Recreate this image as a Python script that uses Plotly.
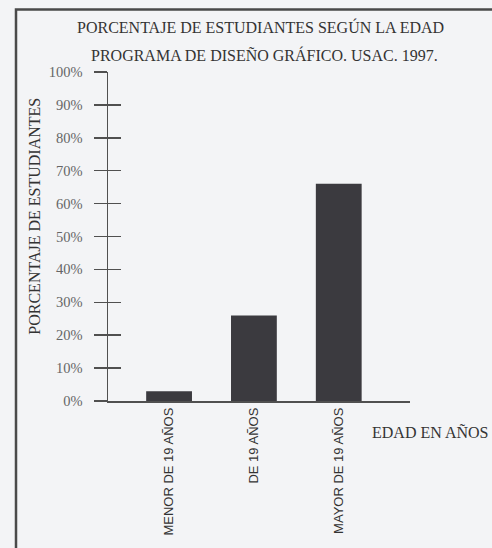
import plotly.graph_objects as go

categories = ["MENOR DE 19 AÑOS", "DE 19 AÑOS", "MAYOR DE 19 AÑOS"]
values = [3, 26, 66]
y_ticks = [0, 10, 20, 30, 40, 50, 60, 70, 80, 90, 100]
y_tick_labels = [f"{v}%" for v in y_ticks]
title_lines = ["PORCENTAJE DE ESTUDIANTES SEGÚN LA EDAD",
               "PROGRAMA DE DISEÑO GRÁFICO. USAC. 1997."]
y_title = "PORCENTAJE DE ESTUDIANTES"
x_title = "EDAD EN AÑOS"

W, H = 492, 548
L, R, T, B = 108, 410, 72, 404  # plot area in page pixels
PW, PH = R - L, B - T

def px(x):  # page pixel -> paper x
    return (x - L) / PW

def py(y):  # page pixel -> paper y
    return (B - y) / PH

BG = "#f3f4f6"
INK = "#3b3a3f"
AX = "#505050"
serif = "Liberation Serif, Times New Roman, serif"
sans = "Liberation Sans, Arial, sans-serif"

fig = go.Figure()
fig.add_trace(go.Bar(
    x=list(range(len(categories))), y=values,
    marker=dict(color=INK, line=dict(width=0)),
    width=0.54,
))
# invisible trace to attach the inside tick axis
fig.add_trace(go.Scatter(x=[0], y=[0], yaxis="y2", mode="markers",
                         marker=dict(opacity=0), hoverinfo="skip", showlegend=False))

fig.update_layout(
    width=W, height=H,
    margin=dict(l=L, r=W - R, t=T, b=H - B, pad=0),
    paper_bgcolor=BG, plot_bgcolor=BG,
    showlegend=False,
    xaxis=dict(
        range=[-0.72, 2.84],
        tickmode="array", tickvals=list(range(len(categories))), ticktext=categories,
        tickangle=-90, showgrid=False, zeroline=False,
        showline=True, linecolor=AX, linewidth=1.5,
        ticks="", tickfont=dict(family=sans, size=13, color="#333"),
        ticklabelstandoff=0,
    ),
    yaxis=dict(
        range=[0, 100], tickmode="array", tickvals=y_ticks, ticktext=y_tick_labels,
        showgrid=False, zeroline=False, showline=True, linecolor=AX, linewidth=1.5,
        ticks="outside", ticklen=13, tickwidth=1.5, tickcolor=AX,
        tickfont=dict(family=serif, size=14.5, color="#666"),
        ticklabelstandoff=8,
    ),
    yaxis2=dict(
        range=[0, 100], overlaying="y", side="left", tickmode="array", tickvals=y_ticks,
        showticklabels=False, showgrid=False, zeroline=False, showline=False,
        ticks="inside", ticklen=13, tickwidth=1.5, tickcolor=AX,
    ),
)

# frame
fig.add_shape(type="rect", xref="paper", yref="paper",
              x0=px(16), x1=px(560), y0=py(600), y1=py(9),
              line=dict(color="#4a4a4a", width=2.5), fillcolor="rgba(0,0,0,0)", layer="below")

def note(text, x, y, size, angle=0):
    fig.add_annotation(text=text, xref="paper", yref="paper", x=px(x), y=py(y),
                       xanchor="center", yanchor="middle", textangle=angle,
                       showarrow=False, font=dict(family=serif, size=size, color="#333"))

note(title_lines[0], 260, 27, 16)
note(title_lines[1], 264, 55, 16)
note(y_title, 35, 218, 16, angle=-90)
note(x_title, 430, 436, 16)

fig.write_html(
    "out.html",
    config={"displayModeBar": False, "staticPlot": True},
    post_script="document.body.style.margin='0';document.body.style.background='%s';"
                "document.body.style.overflow='hidden';" % BG,
)
